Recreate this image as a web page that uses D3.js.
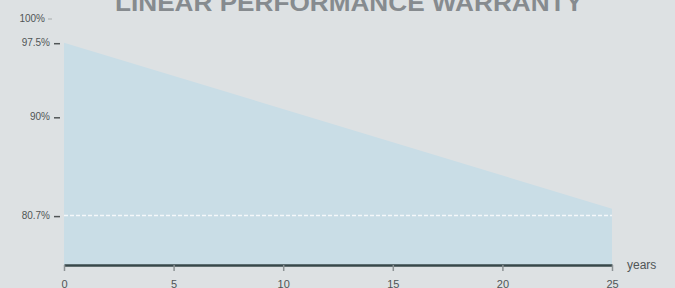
<!DOCTYPE html>
<html>
<head>
<meta charset="utf-8">
<script src="https://cdn.jsdelivr.net/npm/d3@7"></script>
<style>
  html, body { margin: 0; padding: 0; background: #dde1e3; }
  svg { display: block; }
</style>
</head>
<body>
<svg width="675" height="288"></svg>
<script>
    // warranty curve
    let years = [0, 25]
    let output = [97.5, 80.7]
    let xTicks = [0, 5, 10, 15, 20, 25]
    let yTicks = [100, 97.5, 90, 80]
    let yTickLabels = ['100%', '97.5%', '90%', '80.7%']
    let guaranteed = 80

    let width = 675
    let height = 288
    var svg = d3.select('svg')

    var x = d3.scaleLinear().domain([0, 25]).range([64, 612])
    var y = d3.scaleLinear().domain([75, 100]).range([265, 18])

    svg.append('rect').attr('width', width).attr('height', height).attr('fill', '#dde1e3')

    // title, partly cut off at the top
    svg.append('text')
        .attr('x', 349).attr('y', 11)
        .attr('text-anchor', 'middle')
        .attr('font-family', 'Liberation Sans, Arial, sans-serif')
        .attr('font-weight', 'bold')
        .attr('font-size', 24)
        .attr('fill', '#868b8f')
        .attr('textLength', 468)
        .attr('lengthAdjust', 'spacingAndGlyphs')
        .text('LINEAR PERFORMANCE WARRANTY')

    var area = d3.area()
        .x((d, i) => x(years[i]))
        .y0(y(75))
        .y1(d => y(d))

    svg.append('path')
        .datum(output)
        .attr('d', area)
        .attr('fill', '#c9dde6')

    // guaranteed minimum
    svg.append('line')
        .attr('x1', x(0)).attr('x2', x(25))
        .attr('y1', y(guaranteed)).attr('y2', y(guaranteed))
        .attr('stroke', '#f4f8fa')
        .attr('stroke-width', 1.5)
        .attr('stroke-dasharray', '4,2')

    // y labels with small dashes
    var yg = svg.append('g')
    yg.selectAll('text').data(yTicks).enter().append('text')
        .attr('x', (d, i) => i == 0 ? 45 : 50)
        .attr('y', d => y(d))
        .attr('dy', '0.35em')
        .attr('text-anchor', 'end')
        .attr('font-family', 'Liberation Sans, Arial, sans-serif')
        .attr('font-size', 10)
        .attr('fill', '#505556')
        .text((d, i) => yTickLabels[i])
    yg.selectAll('line').data(yTicks).enter().append('line')
        .attr('x1', (d, i) => i == 0 ? 48 : 54)
        .attr('x2', (d, i) => i == 0 ? 52 : 60)
        .attr('y1', d => y(d) + 1).attr('y2', d => y(d) + 1)
        .attr('stroke', (d, i) => i == 0 ? '#b8bcbe' : '#505556')
        .attr('stroke-width', 1.5)

    // x axis
    var xAxis = d3.axisBottom(x).tickValues(xTicks).tickSize(6).tickSizeOuter(0).tickPadding(9)
    var xg = svg.append('g').attr('transform', 'translate(0,265)').call(xAxis)
    xg.select('.domain').attr('stroke', '#37474a').attr('stroke-width', 2.5)
    xg.selectAll('.tick line').attr('stroke', '#8c9294').attr('stroke-width', 1.5)
    xg.selectAll('.tick text')
        .attr('font-family', 'Liberation Sans, Arial, sans-serif')
        .attr('font-size', 11)
        .attr('fill', '#505556')

    svg.append('text')
        .attr('x', 627).attr('y', 265)
        .attr('dy', '0.35em')
        .attr('font-family', 'Liberation Sans, Arial, sans-serif')
        .attr('font-size', 12)
        .attr('fill', '#505556')
        .text('years')
</script>
</body>
</html>
